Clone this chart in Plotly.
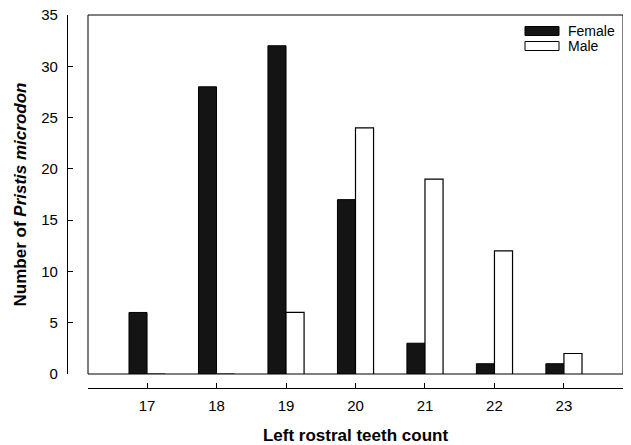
import plotly.graph_objects as go

categories = [17, 18, 19, 20, 21, 22, 23]
female = [6, 28, 32, 17, 3, 1, 1]
male = [0, 0, 6, 24, 19, 12, 2]
y_ticks = [0, 5, 10, 15, 20, 25, 30, 35]

FONT = "Liberation Sans, Arial, sans-serif"

fig = go.Figure()
fig.add_trace(go.Bar(x=categories, y=female, name="Female",
                     marker=dict(color="#141414", line=dict(color="black", width=1)),
                     showlegend=False))
fig.add_trace(go.Bar(x=categories, y=male, name="Male",
                     marker=dict(color="white", line=dict(color="black", width=1.2)),
                     showlegend=False))

# the page body adds an 8px offset, so the figure is drawn 8px smaller
W, H = 623, 437
ml, mr, mt, mb = 59, 8, 7, 57
pw, ph = W - ml - mr, H - mt - mb
box_w, box_h = 623 - 88, 374 - 15

fig.update_layout(
    width=W, height=H,
    margin=dict(l=ml, r=mr, t=mt, b=mb, autoexpand=False),
    paper_bgcolor="white", plot_bgcolor="white",
    barmode="group", bargap=0.48, bargroupgap=0,
    font=dict(family=FONT, size=15, color="black"),
    xaxis=dict(
        domain=[21 / pw, 1], anchor="free", position=0, automargin=False,
        range=[16.15, 23.85], tickvals=categories, ticktext=[str(c) for c in categories],
        showline=True, linecolor="black", linewidth=1.2,
        ticks="inside", ticklen=5, tickcolor="black", tickwidth=1,
        showgrid=False, zeroline=False, ticklabelstandoff=4, ticklabeloverflow="allow",
        title=dict(text="<b>Left rostral teeth count</b>", font=dict(size=17), standoff=17),
        tickfont=dict(size=15),
    ),
    yaxis=dict(
        domain=[14 / ph, 1], anchor="free", position=0, automargin=False,
        range=[0, 35], tickvals=y_ticks,
        showline=True, linecolor="black", linewidth=1.2,
        ticks="inside", ticklen=5, tickcolor="black", tickwidth=1,
        showgrid=False, zeroline=False, ticklabelstandoff=6, ticklabeloverflow="allow",
        title=dict(text="<b>Number of <i>Pristis microdon</i></b>", font=dict(size=17), standoff=9),
        tickfont=dict(size=15),
    ),
)

# plot frame
fig.add_shape(type="rect", xref="x domain", yref="y domain", x0=0, x1=1, y0=0, y1=1,
              line=dict(color="black", width=1), fillcolor="rgba(0,0,0,0)", layer="below")

# custom legend (wide swatches as in the reference)
legend_items = [("Female", "#141414"), ("Male", "white")]
for i, (name, col) in enumerate(legend_items):
    yc = 1 - (16 + 15 * i) / box_h
    fig.add_shape(type="rect", xref="x domain", yref="y domain",
                  x0=(525 - 88) / box_w, x1=(559 - 88) / box_w,
                  y0=yc - 4.5 / box_h, y1=yc + 4.5 / box_h,
                  line=dict(color="black", width=1), fillcolor=col)
    fig.add_annotation(xref="x domain", yref="y domain", x=(566 - 88) / box_w, y=yc,
                       text=name, showarrow=False, xanchor="left", yanchor="middle",
                       font=dict(size=14))

fig.write_html("out.html")
